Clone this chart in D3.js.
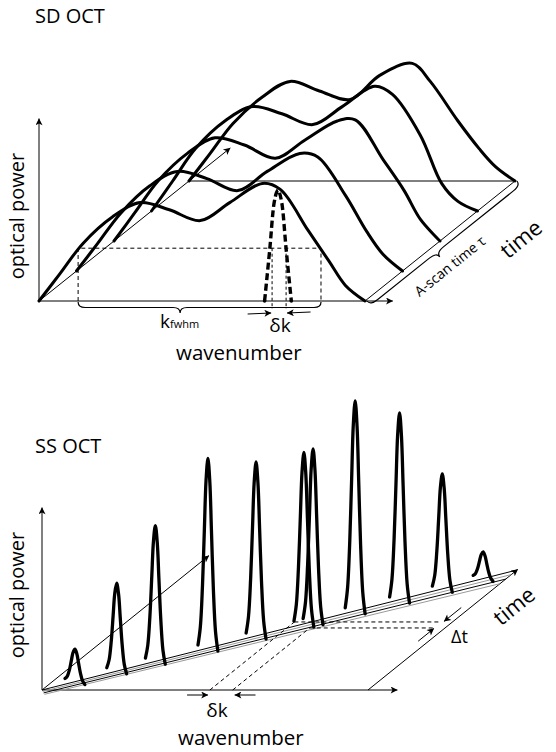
<!DOCTYPE html>
<html><head><meta charset="utf-8">
<script src="https://cdn.jsdelivr.net/npm/d3@7"></script>
<style>
body{margin:0;background:#fff}
svg{display:block}
text{font-family:"Open Sans",sans-serif;fill:#000}
</style>
</head><body>
<svg id="c" width="556" height="752"></svg>
<script>
// ---------------- DATA ----------------
// SD OCT: spectra sampled at wavenumber positions (0..100), one per A-scan time step
const sdK = [0, 6.5, 13.5, 22.5, 31, 40, 49.5, 58.5, 68.5, 74, 82.5, 89, 94, 100];
const sdSpectrum0 = [0, .23, .48, .70, .82, .76, .67, .82, .98, .93, .59, .33, .13, 0];
const sdSpectrum1 = [0, .23, .48, .71, .83, .77, .67, .83, .98, .95, .63, .33, .14, 0];
const sdSpectrum2 = [0, .24, .50, .73, .86, .80, .69, .84, 1.0, 1.01, .68, .42, .18, 0];
const sdSpectrum3 = [0, .25, .52, .75, .87, .81, .72, .87, 1.04, .97, .63, .23, .08, 0];
const sdSpectrum4 = [0, .23, .48, .70, .83, .75, .68, .88, .98, .83, .50, .27, .12, 0];
const sdTimes = [0, 1, 2, 3, 4];
// narrow spectral-resolution line (dashed)
const sdNarrowDk = [-4.1, -2.5, -1.2, -0.4, 0, 0.4, 1.2, 2.5, 4.1];
const sdNarrowRel = [0, .47, .88, .98, 1, .98, .88, .47, 0];
const sdNarrowCenter = 73.3;
const sdNarrowPeak = 0.925;
const sdFwhmK = [12, 86.5];
const sdFwhmLevel = 0.44;
const sdDeltaK = [71.5, 75.8];

// SS OCT: narrow lines swept in wavenumber over time
const ssPeakK = [6.9, 15.6, 23.8, 34.9, 45.1, 55.2, 57.1, 65.9, 75.4, 84.4, 92.8];
const ssPeakT = [0.07, 0.16, 0.24, 0.35, 0.45, 0.55, 0.57, 0.66, 0.75, 0.84, 0.93];
const ssPeakP = [0.27, 0.73, 1.13, 1.58, 1.45, 1.43, 1.44, 1.75, 1.56, 0.96, 0.22];
const ssProfileDk = [-4.2, -3.2, -2.3, -1.5, -0.8, 0, 0.8, 1.5, 2.3, 3.2, 4.2];
const ssProfileRel = [0, 0.1, 0.32, 0.62, 0.88, 1, 0.88, 0.62, 0.32, 0.1, 0];
const ssDeltaK = [51.5, 58.5];
const ssDeltaT = [0.567, 0.517];

// ---------------- DRAWING ----------------
const svg = d3.select("#c");
const defs = svg.append("defs");
defs.append("marker").attr("id", "ah").attr("viewBox", "0 0 10 10")
  .attr("refX", 9.5).attr("refY", 5).attr("markerUnits", "userSpaceOnUse")
  .attr("markerWidth", 10).attr("markerHeight", 7).attr("orient", "auto")
  .append("path").attr("d", "M0,0 L10,5 L0,10 L2.5,5 Z").attr("fill", "#000");

function makeProj(o) {
  const kS = d3.scaleLinear().domain([0, 100]).range([0, o.kLen]);
  const pS = d3.scaleLinear().domain([0, 1.5]).range([0, 180]);
  const tx = d3.scaleLinear().domain(o.tDomain).range([0, o.tVec[0]]);
  const ty = d3.scaleLinear().domain(o.tDomain).range([0, o.tVec[1]]);
  return (k, t, p = 0) => [o.origin[0] + kS(k) + tx(t), o.origin[1] - pS(p) + ty(t)];
}
const curve = d3.line().curve(d3.curveCatmullRom.alpha(0.5));
const straight = d3.line();

function seg(g, a, b, opt = {}) {
  const l = g.append("path").attr("d", straight([a, b])).attr("fill", "none")
    .attr("stroke", opt.color || "#000").attr("stroke-width", opt.w || 1);
  if (opt.dash) l.attr("stroke-dasharray", opt.dash);
  if (opt.arrow) l.attr("marker-end", "url(#ah)");
  return l;
}
function bracePath(p1, p2, w, f, r) {
  const dx = p2[0] - p1[0], dy = p2[1] - p1[1], L = Math.hypot(dx, dy);
  const ux = dx / L, uy = dy / L, nx = -uy, ny = ux;
  const at = (s, o) => [p1[0] + ux * s + nx * o, p1[1] + uy * s + ny * o];
  const c = f * L, h = w / 2;
  const P = (q) => q[0].toFixed(1) + "," + q[1].toFixed(1);
  return "M" + P(p1) + " Q" + P(at(0, h)) + " " + P(at(r, h)) + " L" + P(at(c - r, h)) +
    " Q" + P(at(c, h)) + " " + P(at(c, w)) + " Q" + P(at(c, h)) + " " + P(at(c + r, h)) +
    " L" + P(at(L - r, h)) + " Q" + P(at(L, h)) + " " + P(p2);
}
function label(g, txt, x, y, size, opt = {}) {
  const t = g.append("text").attr("x", x).attr("y", y).attr("font-size", size).text(txt);
  if (opt.anchor) t.attr("text-anchor", opt.anchor);
  if (opt.rotate !== undefined) t.attr("transform", `rotate(${opt.rotate},${x},${y})`);
  return t;
}

// ===== SD OCT =====
{
  const g = svg.append("g");
  const P = makeProj({ origin: [39, 301], kLen: 326, tVec: [150, -120], tDomain: [0, 4] });
  // axes
  seg(g, P(0, 0), P(0, 0, 1.52), { arrow: true });
  seg(g, P(0, 0), P(108.5, 0), { arrow: true });
  seg(g, P(0, 0), P(0, 5.1), { arrow: true });
  seg(g, P(100, 0), P(100, 4));
  seg(g, P(0, 4), P(100, 4));
  // FWHM box
  const fw = [P(sdFwhmK[0], 0), P(sdFwhmK[0], 0, sdFwhmLevel), P(sdFwhmK[1], 0, sdFwhmLevel), P(sdFwhmK[1], 0)];
  g.append("path").attr("d", straight(fw)).attr("fill", "none").attr("stroke", "#000")
    .attr("stroke-width", 1).attr("stroke-dasharray", "4,3");
  // spectra
  const spectra = [sdSpectrum0, sdSpectrum1, sdSpectrum2, sdSpectrum3, sdSpectrum4];
  spectra.forEach((s, i) => {
    const pts = sdK.map((k, j) => P(k, sdTimes[i], s[j]));
    g.append("path").attr("d", curve(pts)).attr("fill", "none").attr("stroke", "#000")
      .attr("stroke-width", 3).attr("stroke-linecap", "round").attr("stroke-linejoin", "round");
  });
  // narrow dashed line
  const np = sdNarrowDk.map((d, j) => P(sdNarrowCenter + d, 0, sdNarrowPeak * sdNarrowRel[j]));
  g.append("path").attr("d", curve(np)).attr("fill", "none").attr("stroke", "#000")
    .attr("stroke-width", 3.4).attr("stroke-dasharray", "7,3.5");
  [sdNarrowDk[0], sdNarrowDk[sdNarrowDk.length - 1]].forEach(d => {
    const q = P(sdNarrowCenter + d, 0);
    g.append("circle").attr("cx", q[0]).attr("cy", q[1]).attr("r", 1.8).attr("fill", "#000");
  });
  // delta k markers
  sdDeltaK.forEach(k => {
    const a = P(k, 0, sdFwhmLevel), b = P(k, 0);
    seg(g, a, [b[0], b[1] + 8], { dash: "3,2.5" });
  });
  const yA = P(0, 0)[1] + 12;
  seg(g, [P(sdDeltaK[0] - 7.5, 0)[0], yA + 1], [P(sdDeltaK[0], 0)[0] - 1, yA], { arrow: true });
  seg(g, [P(sdDeltaK[1] + 7.5, 0)[0], yA - 1], [P(sdDeltaK[1], 0)[0] + 1, yA], { arrow: true });
  // braces
  const b1 = P(sdFwhmK[0], 0), b2 = P(sdFwhmK[1], 0);
  g.append("path").attr("d", bracePath([b1[0], b1[1] + 1], [b2[0], b2[1] + 1], 11, 0.42, 7))
    .attr("fill", "none").attr("stroke", "#000").attr("stroke-width", 1.2);
  const c1 = P(100.6, 0), c2 = P(100.6, 4);
  g.append("path").attr("d", bracePath(c1, c2, 11, 0.44, 9))
    .attr("fill", "none").attr("stroke", "#000").attr("stroke-width", 1.2);
  // labels
  label(g, "SD OCT", 35, 23, 20);
  label(g, "optical power", 23.5, 216, 20, { anchor: "middle", rotate: -90 });
  const kl = g.append("text").attr("x", 160).attr("y", 328);
  kl.append("tspan").attr("font-size", 19).text("k");
  kl.append("tspan").attr("font-size", 11).text("fwhm");
  label(g, "δk", 280, 332, 19, { anchor: "middle" });
  label(g, "wavenumber", 176, 360, 20.5);
  label(g, "A-scan time τ", 453, 270, 14, { anchor: "middle", rotate: -39 });
  label(g, "time", 526, 245, 22, { anchor: "middle", rotate: -39 });
}

// ===== SS OCT =====
{
  const g = svg.append("g");
  const P = makeProj({ origin: [42, 690], kLen: 326, tVec: [149, -120], tDomain: [0, 1] });
  seg(g, P(0, 0), P(0, 0, 1.52), { arrow: true });
  seg(g, P(0, 0), P(109, 0), { arrow: true });
  seg(g, P(100, 0), P(100, 1.005), { arrow: true });
  seg(g, P(0, 0), P(0, 1.12), { arrow: true });
  // sweep rails
  const rails = [
    [[0, 0], [100, 1], "#000"],
    [[0.8, -0.012], [100, 0.962], "#9a9a9a"],
    [[1.6, -0.024], [100, 0.924], "#000"],
    [[2.4, -0.036], [100, 0.886], "#9a9a9a"]
  ];
  rails.forEach(r => seg(g, P(r[0][0], r[0][1]), P(r[1][0], r[1][1]), { color: r[2], w: 1 }));
  // dashed projections
  ssDeltaK.forEach((k, i) => {
    seg(g, P(k, 0), P(k, ssDeltaT[i]), { dash: "4,3" });
    seg(g, P(k, ssDeltaT[i]), P(96.5, ssDeltaT[i]), { dash: "4,3" });
  });
  // peaks (slightly tilted so the right foot lands on a lower rail)
  const tilt = 0.006;
  ssPeakK.forEach((k, i) => {
    const pts = ssProfileDk.map((d, j) => P(k + d, ssPeakT[i] - tilt * d, ssPeakP[i] * ssProfileRel[j]));
    g.append("path").attr("d", curve(pts)).attr("fill", "none").attr("stroke", "#000")
      .attr("stroke-width", 3.3).attr("stroke-linecap", "round").attr("stroke-linejoin", "round");
  });
  // delta k arrows
  const yA = P(0, 0)[1] + 5;
  seg(g, [P(ssDeltaK[0] - 7, 0)[0], yA], [P(ssDeltaK[0], 0)[0] - 2, yA], { arrow: true });
  seg(g, [P(ssDeltaK[1] + 7, 0)[0], yA], [P(ssDeltaK[1], 0)[0] + 2, yA], { arrow: true });
  // delta t arrows
  seg(g, P(97.2, ssDeltaT[0] + 0.12), P(97.2, ssDeltaT[0] + 0.005), { arrow: true });
  seg(g, P(96.8, ssDeltaT[1] - 0.11), P(96.8, ssDeltaT[1] - 0.005), { arrow: true });
  // labels
  label(g, "SS OCT", 35, 453, 20);
  label(g, "optical power", 23.5, 595, 20, { anchor: "middle", rotate: -90 });
  label(g, "δk", 217, 717, 19, { anchor: "middle" });
  label(g, "wavenumber", 178, 745, 20.5);
  label(g, "Δt", 451, 643, 18);
  label(g, "time", 519, 612, 22, { anchor: "middle", rotate: -39 });
}
</script>
</body></html>
